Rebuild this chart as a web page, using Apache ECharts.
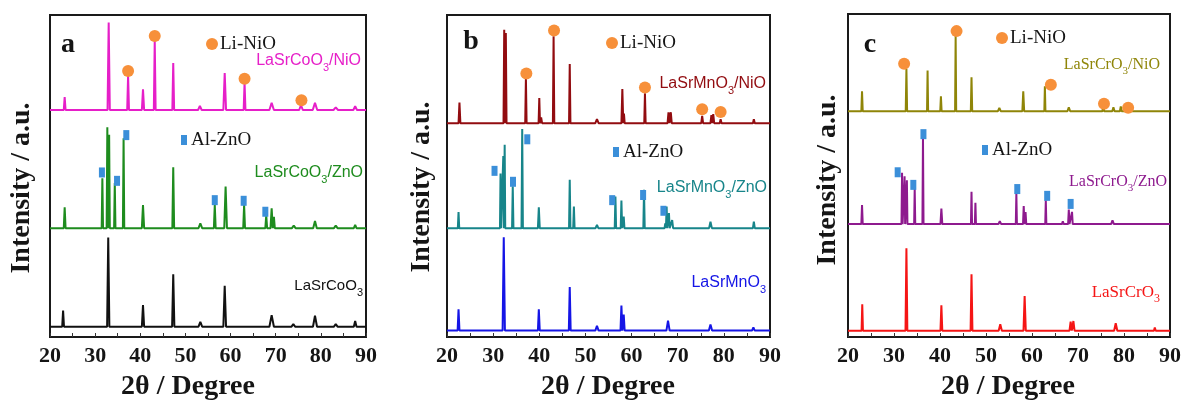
<!DOCTYPE html>
<html>
<head>
<meta charset="utf-8">
<script src="https://cdn.jsdelivr.net/npm/echarts@6/dist/echarts.min.js"></script>
<style>
  html, body { margin: 0; background: #fff; }
  #chart { width: 1184px; height: 401px; }
</style>
</head>
<body>
<div id="chart"></div>
<script>
// x range of every panel (2 theta, degrees)
var thetaMin = 20, thetaMax = 90;

// trace baselines (a.u., bottom to top: pure, /ZnO, /NiO)
var baseA = [3.2, 33.8, 70.5];
var baseB = [2.0, 33.8, 66.4];
var baseC = [1.95, 34.95, 69.9];

// peaks: [2theta, height above baseline, half width]
var peaksCo = [[22.9, 5, 0.2], [32.9, 27.7, 0.25], [40.6, 6.7, 0.25], [47.3, 16.3, 0.25], [53.3, 1.5, 0.4],
  [58.7, 12.7, 0.3], [69.1, 3.6, 0.5], [73.9, 0.8, 0.4], [78.7, 3.4, 0.45], [83.3, 0.8, 0.4], [87.6, 1.8, 0.3]];
var peaksCoZn = [[23.25, 6.5, 0.2], [31.6, 15.5, 0.15], [32.7, 31.3, 0.15], [33.1, 29, 0.15], [34.35, 14, 0.15],
  [36.3, 27.9, 0.15], [40.6, 7.2, 0.25], [47.3, 18.9, 0.2], [53.3, 1.5, 0.4], [56.5, 7.2, 0.2], [58.9, 12.9, 0.3],
  [63.0, 7.2, 0.2], [67.9, 4, 0.2], [69.1, 6.2, 0.25], [69.6, 3.5, 0.2], [74.0, 0.8, 0.4], [78.7, 2.2, 0.4],
  [83.3, 0.8, 0.4], [87.6, 1.0, 0.3]];
var peaksCoNi = [[23.25, 4.0, 0.2], [33.0, 27.2, 0.25], [37.3, 10.7, 0.2], [40.6, 6.4, 0.25], [43.2, 21.6, 0.2],
  [47.3, 14.6, 0.2], [53.2, 1.3, 0.4], [58.7, 11.5, 0.3], [63.1, 8.5, 0.2], [69.1, 2.2, 0.5], [75.6, 1.5, 0.4],
  [78.7, 2.2, 0.5], [83.3, 0.8, 0.5], [87.6, 1.2, 0.4]];

var peaksMn = [[22.5, 6.6, 0.2], [32.3, 29, 0.25], [39.9, 6.6, 0.2], [46.6, 13.5, 0.2], [52.5, 1.5, 0.35],
  [57.8, 7.8, 0.2], [58.3, 5, 0.2], [67.9, 3.1, 0.35], [77.1, 1.9, 0.35], [86.4, 1, 0.3]];
var peaksMnZn = [[22.5, 5, 0.15], [31.6, 17, 0.12], [32.2, 22.4, 0.12], [32.5, 25.9, 0.12], [34.25, 13, 0.15],
  [36.3, 30.8, 0.15], [39.9, 6.5, 0.2], [46.6, 15, 0.15], [47.5, 6.7, 0.15], [52.5, 1, 0.3], [56.5, 9.8, 0.15],
  [57.8, 8.6, 0.15], [58.3, 3.6, 0.15], [62.7, 11.9, 0.15], [67.3, 1.5, 0.15], [67.6, 6.7, 0.12], [68.1, 4.7, 0.15],
  [68.8, 2.5, 0.2], [72.5, 0.6, 0.3], [77.1, 2, 0.3], [86.5, 2, 0.2]];
var peaksMnNi = [[22.7, 6.4, 0.2], [32.4, 29, 0.15], [32.75, 28, 0.15], [35.6, 0.6, 0.2], [37.1, 14, 0.15],
  [40.0, 7.8, 0.15], [40.4, 1.8, 0.2], [43.1, 27, 0.15], [46.6, 18.4, 0.15], [52.5, 1.3, 0.35], [58.0, 10.6, 0.2],
  [58.35, 3, 0.15], [62.9, 9.3, 0.15], [68.0, 3.4, 0.2], [68.5, 3.4, 0.2], [72.9, 0.6, 0.3], [75.3, 2.3, 0.2],
  [77.3, 2.5, 0.2], [77.7, 2.8, 0.2], [79.3, 1.2, 0.2], [82.1, 0.5, 0.3], [86.5, 1.2, 0.2]];

var peaksCr = [[23.1, 8.2, 0.15], [32.7, 25.5, 0.2], [40.3, 7.9, 0.2], [46.85, 17.5, 0.2], [53.1, 2, 0.35],
  [58.4, 10.7, 0.25], [68.4, 2.8, 0.25], [69.0, 3, 0.25], [72.9, 0.6, 0.3], [78.2, 2.3, 0.35], [82.7, 0.6, 0.3],
  [86.7, 1, 0.2]];
var peaksCrZn = [[23.05, 5.9, 0.15], [31.75, 15.9, 0.12], [32.3, 14.8, 0.12], [32.8, 13.6, 0.12], [34.5, 11, 0.12],
  [36.3, 26.8, 0.12], [40.3, 4.8, 0.2], [46.85, 10, 0.12], [47.7, 6.6, 0.12], [53.0, 0.9, 0.3], [56.6, 9.5, 0.12],
  [58.2, 5.6, 0.15], [58.6, 3.7, 0.15], [63.0, 7.4, 0.12], [66.7, 0.9, 0.2], [68.0, 4.5, 0.15], [68.7, 3.8, 0.15],
  [72.6, 0.6, 0.3], [77.5, 1.2, 0.3], [86.7, 0.6, 0.2]];
var peaksCrNi = [[23.05, 6.2, 0.15], [32.7, 13.1, 0.15], [37.3, 12.6, 0.12], [40.2, 4.6, 0.15], [43.4, 23.4, 0.12],
  [46.85, 10.5, 0.15], [52.9, 1, 0.3], [58.1, 6.2, 0.2], [62.8, 7.7, 0.12], [68.0, 1.2, 0.3], [75.5, 1.7, 0.2],
  [77.7, 1.2, 0.25], [79.3, 1.5, 0.2], [86.5, 0.6, 0.25]];

// phase markers: [2theta, a.u.]
var nioMarksA = [[37.3, 82.6], [43.2, 93.5], [63.1, 80.2], [75.7, 73.5]];
var znoMarksA = [[31.5, 51.1], [34.85, 48.5], [36.9, 62.7], [56.5, 42.5], [62.9, 42.3], [67.7, 38.9]];
var nioMarksB = [[37.2, 81.8], [43.2, 95.2], [62.9, 77.5], [75.3, 70.7], [79.3, 69.9]];
var znoMarksB = [[30.3, 51.6], [34.3, 48.2], [37.4, 61.4], [55.8, 42.5], [62.5, 44.1], [66.9, 39.2]];
var nioMarksC = [[32.2, 84.6], [43.6, 94.7], [64.1, 78.1], [75.65, 72.2], [80.9, 71.0]];
var znoMarksC = [[30.8, 51.0], [34.2, 47.1], [36.4, 62.8], [56.8, 45.8], [63.3, 43.7], [68.4, 41.2]];

// sample names: [prefix, suffix] around the subscript 3
var namesA = [['LaSrCoO', ''], ['LaSrCoO', '/ZnO'], ['LaSrCoO', '/NiO']];
var namesB = [['LaSrMnO', ''], ['LaSrMnO', '/ZnO'], ['LaSrMnO', '/NiO']];
var namesC = [['LaSrCrO', ''], ['LaSrCrO', '/ZnO'], ['LaSrCrO', '/NiO']];
var panelLetters = ['a', 'b', 'c'];

var serif = '"Times New Roman", "Liberation Serif", serif';
var sans = 'Arial, "Liberation Sans", sans-serif';
var orange = '#f7903a';
var blueMark = '#3b8fd9';

var panels = [
  {grid: {left: 50, top: 15, width: 316, height: 322}, base: baseA, peaks: [peaksCo, peaksCoZn, peaksCoNi],
    colors: ['#111111', '#1e8c1e', '#e61fc8'], nio: nioMarksA, zno: znoMarksA, names: namesA, font: sans, nameSize: [15, 16, 16],
    nameAt: [[363, 286], [363, 173], [361, 61]], letterAt: [68, 45], niAt: [212, 44], znAt: [184, 140],
    yTitleAt: [22, 188], xTitleAt: [188, 387]},
  {grid: {left: 447, top: 15, width: 323, height: 322}, base: baseB, peaks: [peaksMn, peaksMnZn, peaksMnNi],
    colors: ['#1515e6', '#17858a', '#920c10'], nio: nioMarksB, zno: znoMarksB, names: namesB, font: sans, nameSize: [16, 16, 16],
    nameAt: [[766, 283], [767, 188], [766, 84]], letterAt: [471, 42], niAt: [612, 43], znAt: [616, 152],
    yTitleAt: [422, 187], xTitleAt: [608, 387]},
  {grid: {left: 848, top: 14, width: 322, height: 323}, base: baseC, peaks: [peaksCr, peaksCrZn, peaksCrNi],
    colors: ['#f51515', '#8e1a8e', '#8f8508'], nio: nioMarksC, zno: znoMarksC, names: namesC, font: serif, nameSize: [17, 16, 16],
    nameAt: [[1160, 293], [1167, 182], [1160, 65]], letterAt: [870, 45], niAt: [1002, 38], znAt: [985, 150],
    yTitleAt: [828, 180], xTitleAt: [1008, 387]}
];

function trace(base, peaks) {
  var pts = [[thetaMin, base]];
  peaks.forEach(function (p) {
    pts.push([p[0] - p[2], base], [p[0], base + p[1]], [p[0] + p[2], base]);
  });
  pts.push([thetaMax, base]);
  return pts;
}

function sampleLabel(at, name, color, family, size) {
  var text = '{n|' + name[0] + '}{s|3}' + (name[1] ? '{n|' + name[1] + '}' : '');
  return {
    type: 'text', x: at[0], y: at[1], z: 100,
    style: {
      text: text, align: 'right', verticalAlign: 'middle', textAlign: 'right', textVerticalAlign: 'middle',
      rich: {
        n: {fontFamily: family, fontSize: size, fill: color, lineHeight: 24},
        s: {fontFamily: family, fontSize: Math.round(size * 0.7), fill: color, lineHeight: 12, verticalAlign: 'bottom'}
      }
    }
  };
}

function plainText(at, text, font, rotation, align) {
  return {
    type: 'text', x: at[0], y: at[1], rotation: rotation || 0, z: 100,
    style: {
      text: text, font: font, fill: '#151515',
      align: align || 'center', verticalAlign: 'middle',
      textAlign: align || 'center', textVerticalAlign: 'middle'
    }
  };
}

var grids = [], xAxes = [], yAxes = [], series = [], graphics = [];

panels.forEach(function (p, i) {
  grids.push(Object.assign({show: true, borderColor: '#1a1a1a', borderWidth: 2, outerBoundsMode: 'none'}, p.grid));
  xAxes.push({
    gridIndex: i, type: 'value', min: thetaMin, max: thetaMax, interval: 10,
    axisLine: {show: true, onZero: false, lineStyle: {color: '#1a1a1a', width: 2}},
    axisTick: {show: true, inside: true, length: 4, lineStyle: {color: '#333'}},
    minorTick: {show: true, splitNumber: 2, length: 4, lineStyle: {color: '#333'}},
    splitLine: {show: false},
    axisLabel: {fontFamily: serif, fontWeight: 'bold', fontSize: 22, color: '#151515', margin: 8}
  });
  yAxes.push({
    gridIndex: i, type: 'value', min: 0, max: 100,
    axisLine: {show: false}, axisTick: {show: false}, axisLabel: {show: false}, splitLine: {show: false}
  });

  p.peaks.forEach(function (pk, k) {
    series.push({
      type: 'line', xAxisIndex: i, yAxisIndex: i, data: trace(p.base[k], pk),
      showSymbol: false, symbol: 'none', lineStyle: {color: p.colors[k], width: 2}, animation: false, silent: true
    });
    graphics.push(sampleLabel(p.nameAt[k], p.names[k], p.colors[k], p.font, p.nameSize[k]));
  });

  series.push({
    type: 'scatter', xAxisIndex: i, yAxisIndex: i, data: p.nio, symbol: 'circle', symbolSize: 12,
    itemStyle: {color: orange, opacity: 1}, z: 5, animation: false, silent: true
  });
  series.push({
    type: 'scatter', xAxisIndex: i, yAxisIndex: i, data: p.zno, symbol: 'rect', symbolSize: [6, 10],
    itemStyle: {color: blueMark, opacity: 1}, z: 5, animation: false, silent: true
  });

  // in-plot legend for the two phases
  graphics.push({type: 'circle', z: 100, shape: {cx: p.niAt[0], cy: p.niAt[1], r: 6}, style: {fill: orange}});
  graphics.push(plainText([p.niAt[0] + 8, p.niAt[1]], 'Li-NiO', '19px ' + serif, 0, 'left'));
  graphics.push({type: 'rect', z: 100, shape: {x: p.znAt[0] - 3, y: p.znAt[1] - 5, width: 6, height: 10}, style: {fill: blueMark}});
  graphics.push(plainText([p.znAt[0] + 7, p.znAt[1]], 'Al-ZnO', '19px ' + serif, 0, 'left'));

  graphics.push(plainText(p.letterAt, panelLetters[i], 'bold 28px ' + serif));
  graphics.push(plainText(p.yTitleAt, 'Intensity / a.u.', 'bold 28px ' + serif, Math.PI / 2));
  graphics.push(plainText(p.xTitleAt, '2\u03b8 / Degree', 'bold 28px ' + serif));
});

var chart = echarts.init(document.getElementById('chart'), null, {renderer: 'canvas'});
chart.setOption({
  backgroundColor: '#ffffff',
  animation: false,
  grid: grids,
  xAxis: xAxes,
  yAxis: yAxes,
  series: series,
  graphic: {elements: graphics}
});
</script>
</body>
</html>
